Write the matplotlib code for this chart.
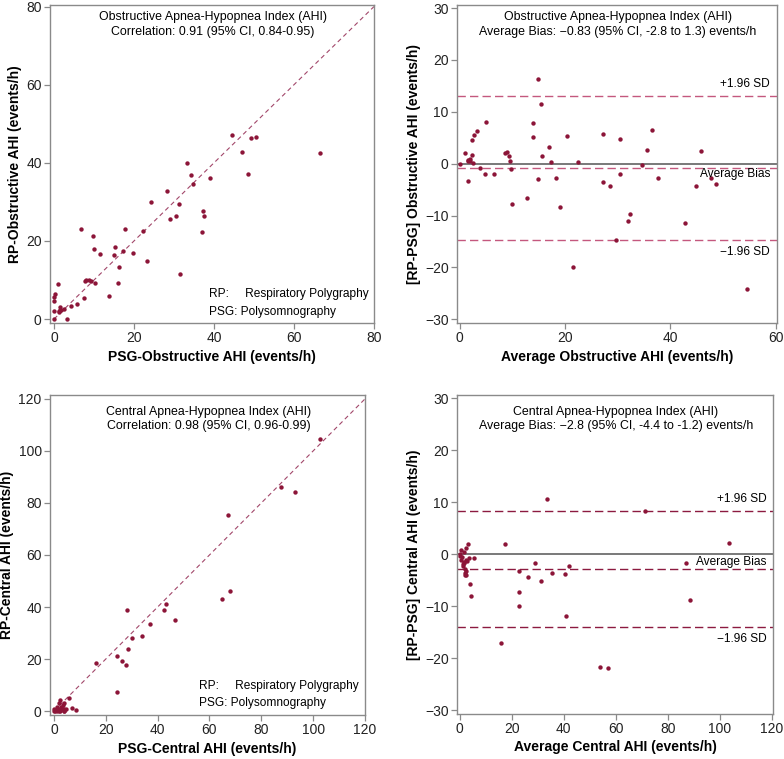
import numpy as np
import matplotlib
matplotlib.use("Agg")
import matplotlib.pyplot as plt

plt.rcParams['font.family'] = ['Liberation Sans', 'DejaVu Sans']

# Obstructive AHI (events/h)
obs_psg = [0.0, 0.0, 3.3, 1.25, 1.3, 1.45, 1.7, 0.0, 1.6, 2.45, 0.0, 0.2, 4.35, 5.7,
           1.1, 7.4, 7.7, 7.9, 8.7, 9.35, 10.3, 13.8, 16.05, 9.95, 11.45, 16.35, 6.75,
           9.65, 14.95, 15.3, 17.15, 19.75, 23.3, 17.75, 31.55, 22.25, 24.35, 29.1,
           30.6, 36.95, 31.35, 28.15, 37.4, 37.25, 34.8, 34.25, 33.3, 39.0, 48.5,
           47.05, 44.55, 49.2, 50.55, 66.6]
obs_rp = [0.0, 2.1, 0.0, 2.05, 1.9, 2.35, 2.3, 4.6, 3.2, 2.55, 5.6, 6.5, 3.45, 3.8,
          9.1, 5.5, 9.7, 10.1, 10.1, 9.85, 9.3, 6.0, 9.35, 17.85, 16.55, 13.45, 23.05,
          21.15, 16.45, 18.5, 17.45, 16.95, 14.9, 23.05, 11.65, 22.55, 30.05, 25.5,
          26.4, 22.25, 29.45, 32.85, 26.4, 27.55, 34.6, 36.95, 39.9, 36.2, 37.1,
          42.75, 47.05, 46.4, 46.65, 42.4]

# Central AHI (events/h)
cen_psg = [28.35, 67.1, 102.5, 16.3, 87.75, 93.0, 29.95, 43.3, 24.3, 37.25, 42.5,
           28.4, 33.95, 26.3, 27.75, 46.85, 24.45, 64.65, 68.1, 5.85, 6.85, 8.5,
           2.25, 2.0, 1.3, 0.0, 0.0, 0.25, 1.2, 1.2, 2.4, 2.9, 3.6, 3.85, 2.1, 3.65,
           3.95, 3.75, 4.0, 4.55, 2.4, 2.55]
cen_rp = [39.05, 75.5, 104.7, 18.3, 86.05, 84.2, 28.25, 41.1, 21.1, 33.55, 38.7,
          24.0, 28.85, 19.1, 17.85, 34.95, 7.35, 42.95, 46.3, 5.15, 1.15, 0.5,
          4.15, 3.2, 1.7, 0.9, 0.0, 0.0, 0.6, 0.1, 0.9, 1.7, 2.3, 3.15, 0.2, 0.75,
          0.65, 0.05, 0.0, 0.65, 0.2, 0.85]

# Bland-Altman limits (bias, +1.96 SD, -1.96 SD)
obs_limits = [-0.83, 13.1, -14.7]
cen_limits = [-2.8, 8.4, -13.9]

dot = '#8c1538'
spine_c = '#8a8a8a'

fig = plt.figure(figsize=(7.84, 7.59), dpi=100)
W, H = 784, 759


def make_ax(l, t, r, b):
    ax = fig.add_axes([l / W, 1 - b / H, (r - l) / W, (b - t) / H])
    for s in ax.spines.values():
        s.set_color(spine_c)
        s.set_linewidth(1.0)
    ax.tick_params(direction='out', length=4, width=0.9, color=spine_c,
                   labelsize=10, labelcolor='#222222', pad=2)
    return ax


def scatter_panel(ax, x, y, lim, step, title, corr, xl, yl, tops):
    ax.scatter(x, y, s=10, color=dot, linewidths=0, zorder=3)
    ax.plot([0, lim[1]], [0, lim[1]], ls=(0, (4, 3)), color='#a2476a', lw=0.8, zorder=2)
    ax.set_xlim(lim[0], lim[1])
    ax.set_ylim(lim[2], lim[3])
    ax.set_xticks(np.arange(0, lim[1] + 1, step))
    ax.set_yticks(np.arange(0, lim[1] + 1, step))
    ax.text(0.503, tops[0], title, transform=ax.transAxes, ha='center', va='center', fontsize=8.9)
    ax.text(0.503, tops[1], corr, transform=ax.transAxes, ha='center', va='center', fontsize=8.9)
    ax.text(tops[2], tops[3], 'RP:     Respiratory Polygraphy', transform=ax.transAxes,
            ha='left', va='center', fontsize=8.6)
    ax.text(tops[2], tops[4], 'PSG: Polysomnography', transform=ax.transAxes,
            ha='left', va='center', fontsize=8.6)
    ax.set_xlabel(xl, fontsize=10, fontweight='bold', labelpad=3)
    ax.set_ylabel(yl, fontsize=10, fontweight='bold', labelpad=3)


def ba_panel(ax, x, y, limits, lcol, xlim, xstep, title, bias, xl, yl, tops, lab_x, lab_y):
    x = np.asarray(x)
    y = np.asarray(y)
    mean = (x + y) / 2
    diff = y - x
    ax.axhline(0, color='#555555', lw=1.1, zorder=1)
    for v in limits:
        ax.axhline(v, color=lcol, lw=1.0, ls=(0, (6, 3)), zorder=1)
    ax.scatter(mean, diff, s=10, color=dot, linewidths=0, zorder=3)
    ax.set_xlim(xlim)
    ax.set_ylim(-30.7, 30.6)
    ax.set_xticks(np.arange(0, xlim[1] + 1, xstep))
    ax.set_yticks(np.arange(-30, 31, 10))
    ax.text(0.503, tops[0], title, transform=ax.transAxes, ha='center', va='center', fontsize=8.9)
    ax.text(0.503, tops[1], bias, transform=ax.transAxes, ha='center', va='center', fontsize=8.9)
    ax.text(lab_x, lab_y[0], '+1.96 SD', ha='right', va='center', fontsize=8.6)
    ax.text(lab_x, lab_y[1], 'Average Bias', ha='right', va='center', fontsize=8.6)
    ax.text(lab_x, lab_y[2], '\u22121.96 SD', ha='right', va='center', fontsize=8.6)
    ax.set_xlabel(xl, fontsize=10, fontweight='bold', labelpad=3)
    ax.set_ylabel(yl, fontsize=10, fontweight='bold', labelpad=3)


ax1 = make_ax(50, 5, 374, 323)
scatter_panel(ax1, obs_psg, obs_rp, (-1, 80, -1, 80.4), 20,
              'Obstructive Apnea-Hypopnea Index (AHI)',
              'Correlation: 0.91 (95% CI, 0.84-0.95)',
              'PSG-Obstructive AHI (events/h)', 'RP-Obstructive AHI (events/h)',
              (0.962, 0.915, 0.49, 0.091, 0.035))

ax2 = make_ax(457, 5, 777, 323)
ba_panel(ax2, obs_psg, obs_rp, obs_limits, '#c4587e', (-0.5, 60.25), 20,
         'Obstructive Apnea-Hypopnea Index (AHI)',
         'Average Bias: \u22120.83 (95% CI, -2.8 to 1.3) events/h',
         'Average Obstructive AHI (events/h)', '[RP-PSG] Obstructive AHI (events/h)',
         (0.962, 0.915), 58.9, (15.4, -1.9, -17.1))

ax3 = make_ax(50, 395, 365, 715)
scatter_panel(ax3, cen_psg, cen_rp, (-1.5, 120, -1.5, 121.5), 20,
              'Central Apnea-Hypopnea Index (AHI)',
              'Correlation: 0.98 (95% CI, 0.96-0.99)',
              'PSG-Central AHI (events/h)', 'RP-Central AHI (events/h)',
              (0.947, 0.903, 0.473, 0.092, 0.0375))

ax4 = make_ax(457, 395, 773, 714)
ba_panel(ax4, cen_psg, cen_rp, cen_limits, '#8c1a40', (-1, 120.5), 20,
         'Central Apnea-Hypopnea Index (AHI)',
         'Average Bias: \u22122.8 (95% CI, -4.4 to -1.2) events/h',
         'Average Central AHI (events/h)', '[RP-PSG] Central AHI (events/h)',
         (0.948, 0.904), 118, (10.7, -1.5, -16.3))

fig.savefig('out.png', dpi=100)
